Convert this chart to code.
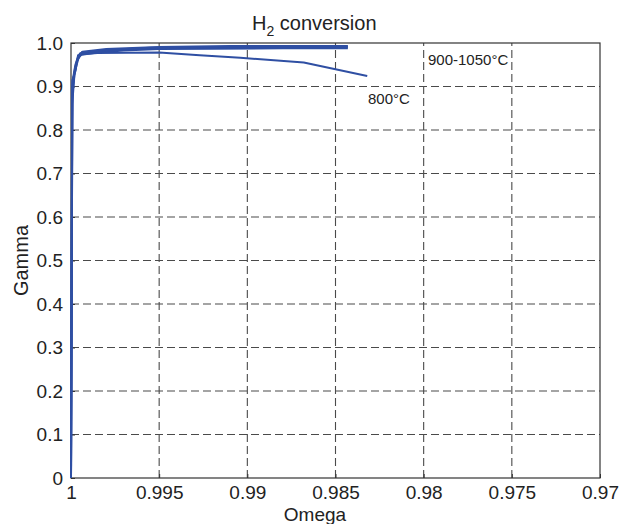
<!DOCTYPE html>
<html>
<head>
<meta charset="utf-8">
<script src="https://cdn.jsdelivr.net/npm/d3@7"></script>
<style>
  body { margin: 0; background: #fff; }
  svg { display: block; font-family: "Liberation Sans", Arial, sans-serif; }
</style>
</head>
<body>
<div id="chart"></div>
<script>
// tick values and labels
const xTicks = [1, 0.995, 0.99, 0.985, 0.98, 0.975, 0.97];
const xTickLabels = ["1", "0.995", "0.99", "0.985", "0.98", "0.975", "0.97"];
const yTicks = [0, 0.1, 0.2, 0.3, 0.4, 0.5, 0.6, 0.7, 0.8, 0.9, 1.0];
const yTickLabels = ["0", "0.1", "0.2", "0.3", "0.4", "0.5", "0.6", "0.7", "0.8", "0.9", "1.0"];

// series (omega, gamma)
const omega800 = [1, 0.99993, 0.9998, 0.99965, 0.9994, 0.9985, 0.995, 0.9927, 0.9904, 0.9868, 0.9832];
const gamma800 = [0, 0.86, 0.93, 0.962, 0.974, 0.977, 0.978, 0.972, 0.966, 0.955, 0.924];

const omega900 = [1, 0.99994, 0.99992, 0.99975, 0.9996, 0.9985, 0.997, 0.995, 0.992, 0.988, 0.9843];
const gamma900 = [0, 0.82, 0.915, 0.935, 0.972, 0.978, 0.983, 0.986, 0.987, 0.988, 0.988];

const omega950 = [1, 0.99993, 0.9998, 0.99968, 0.9995, 0.998, 0.996, 0.993, 0.989, 0.9843];
const gamma950 = [0, 0.88, 0.93, 0.95, 0.976, 0.982, 0.987, 0.989, 0.99, 0.99];

const omega1000 = [1, 0.99992, 0.99978, 0.99965, 0.9994, 0.998, 0.9955, 0.992, 0.988, 0.9843];
const gamma1000 = [0, 0.9, 0.94, 0.96, 0.978, 0.984, 0.989, 0.991, 0.992, 0.992];

const omega1050 = [1, 0.99992, 0.99975, 0.9996, 0.99935, 0.998, 0.995, 0.991, 0.9843];
const gamma1050 = [0, 0.91, 0.95, 0.968, 0.98, 0.986, 0.991, 0.993, 0.993];

const series = [
  [omega800, gamma800],
  [omega900, gamma900],
  [omega950, gamma950],
  [omega1000, gamma1000],
  [omega1050, gamma1050]
];

const width = 622;
const height = 524;
const margin = { top: 43, right: 22, bottom: 46, left: 71 };
const lineColor = "#2f4fa3";
const gridColor = "#4a4a4a";
const frameColor = "#333";
const textColor = "#222";

const svg = d3
  .select("#chart")
  .append("svg")
  .attr("width", width)
  .attr("height", height);

const x = d3
  .scaleLinear()
  .domain([1, 0.97])
  .range([margin.left, width - margin.right]);

const y = d3
  .scaleLinear()
  .domain([0, 1])
  .range([height - margin.bottom, margin.top]);

// dashed grid
svg
  .append("g")
  .selectAll("line")
  .data(xTicks.slice(1, -1))
  .join("line")
  .attr("x1", (d) => x(d))
  .attr("x2", (d) => x(d))
  .attr("y1", y(0))
  .attr("y2", y(1))
  .attr("stroke", gridColor)
  .attr("stroke-width", 1.1)
  .attr("stroke-dasharray", "8,4");

svg
  .append("g")
  .selectAll("line")
  .data(yTicks.slice(1, -1))
  .join("line")
  .attr("x1", x(1))
  .attr("x2", x(0.97))
  .attr("y1", (d) => y(d))
  .attr("y2", (d) => y(d))
  .attr("stroke", gridColor)
  .attr("stroke-width", 1.1)
  .attr("stroke-dasharray", "8,4");

// axes
const xAxis = svg
  .append("g")
  .attr("transform", `translate(0,${y(0)})`)
  .call(
    d3
      .axisBottom(x)
      .tickValues(xTicks)
      .tickFormat((d, i) => xTickLabels[i])
      .tickSizeInner(-4)
      .tickSizeOuter(0)
      .tickPadding(8)
  );

const yAxis = svg
  .append("g")
  .attr("transform", `translate(${x(1)},0)`)
  .call(
    d3
      .axisLeft(y)
      .tickValues(yTicks)
      .tickFormat((d, i) => yTickLabels[i])
      .tickSizeInner(-4)
      .tickSizeOuter(0)
      .tickPadding(8)
  );

[xAxis, yAxis].forEach((g) => {
  g.select(".domain").remove();
  g.selectAll(".tick line").attr("stroke", frameColor);
  g.selectAll("text")
    .attr("fill", textColor)
    .style("font-size", "19px");
});

// frame
svg
  .append("rect")
  .attr("x", x(1))
  .attr("y", y(1))
  .attr("width", x(0.97) - x(1))
  .attr("height", y(0) - y(1))
  .attr("fill", "none")
  .attr("stroke", frameColor)
  .attr("stroke-width", 1.2);

// curves
const line = d3
  .line()
  .x((d) => x(d[0]))
  .y((d) => y(d[1]));

svg
  .append("g")
  .selectAll("path")
  .data(series.map(([om, ga]) => om.map((o, i) => [o, ga[i]])))
  .join("path")
  .attr("d", line)
  .attr("fill", "none")
  .attr("stroke", lineColor)
  .attr("stroke-width", 2)
  .attr("stroke-linejoin", "round");

// annotations
svg
  .append("text")
  .attr("x", 428)
  .attr("y", 65)
  .attr("fill", textColor)
  .style("font-size", "15px")
  .text("900-1050°C");

svg
  .append("text")
  .attr("x", 368)
  .attr("y", 104)
  .attr("fill", textColor)
  .style("font-size", "15px")
  .text("800°C");

// title
const title = svg
  .append("text")
  .attr("x", 252)
  .attr("y", 30)
  .attr("fill", textColor)
  .style("font-size", "20px");
title.append("tspan").text("H");
title.append("tspan").attr("dy", 6).style("font-size", "14px").text("2");
title.append("tspan").attr("dy", -6).text(" conversion");

// axis labels
svg
  .append("text")
  .attr("x", 315)
  .attr("y", 521)
  .attr("text-anchor", "middle")
  .attr("fill", textColor)
  .style("font-size", "19px")
  .text("Omega");

svg
  .append("text")
  .attr("transform", `translate(28,${(y(0) + y(1)) / 2}) rotate(-90)`)
  .attr("text-anchor", "middle")
  .attr("fill", textColor)
  .style("font-size", "20px")
  .text("Gamma");
</script>
</body>
</html>
